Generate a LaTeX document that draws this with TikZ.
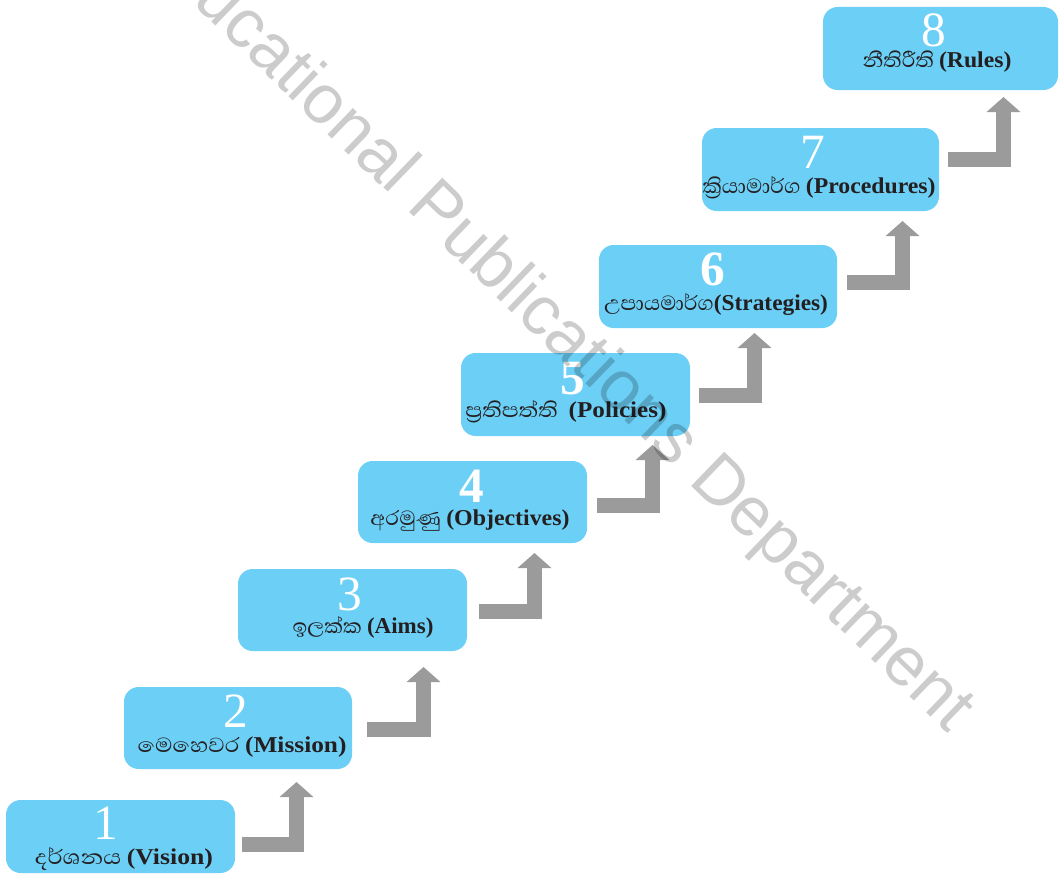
\documentclass[tikz,border=0pt]{standalone}
\usepackage{fontspec}
\usepackage{graphicx}
\setmainfont{Liberation Serif}
\newfontfamily\sinhalafont[Script=Sinhala,Scale=1.15]{Abhaya Libre}
\newfontfamily\wmfont{Liberation Sans}
\usetikzlibrary{arrows.meta}
\definecolor{boxblue}{RGB}{108,207,246}
\definecolor{arrgray}{RGB}{155,155,155}
\definecolor{labtext}{RGB}{35,31,32}
\newcommand\lbl[3]{\resizebox{#1pt}{\height}{{\sinhalafont #2}{\bfseries #3}}}
\tikzset{
  stepbox/.style={fill=boxblue, rounded corners=11pt, inner sep=0pt},
  numtxt/.style={text=white, font=\fontsize{37}{40}\selectfont, anchor=base, inner sep=0pt},
  boldnum/.style={numtxt, font=\fontsize{37}{40}\selectfont\bfseries},
  labtxt/.style={text=labtext, font=\fontsize{17}{20}\selectfont, anchor=base, inner sep=0pt},
  arr/.style={draw=arrgray, line width=11.25pt, line join=miter,
    -{Triangle[width=24.75pt, length=11.25pt]}},
}
\begin{document}
\begin{tikzpicture}[x=0.75pt, y=-0.75pt]
\useasboundingbox (0,0) rectangle (1059,874);
% boxes
\path[stepbox] (6,800) rectangle (235,873);   \node (b1) at (120.5,836.5) {};
\path[stepbox] (124,687) rectangle (352,769); \node (b2) at (238,728) {};
\path[stepbox] (238,569) rectangle (467,651); \node (b3) at (352.5,610) {};
\path[stepbox] (358,461) rectangle (587,543); \node (b4) at (472.5,502) {};
\path[stepbox] (461,353) rectangle (690,436); \node (b5) at (575.5,394.5) {};
\path[stepbox] (599,245) rectangle (837,328); \node (b6) at (718,286.5) {};
\path[stepbox] (702,128) rectangle (939,211); \node (b7) at (820.5,169.5) {};
\path[stepbox] (823,7) rectangle (1058,90);   \node (b8) at (940.5,48.5) {};
% numbers
\node[numtxt] (n1) at (106,839) {1};
\node[numtxt] (n2) at (236,727) {2};
\node[numtxt] (n3) at (350,610) {3};
\node[boldnum] (n4) at (472,502) {4};
\node[boldnum] (n5) at (573,394) {5};
\node[boldnum] (n6) at (713,285) {6};
\node[numtxt] (n7) at (813,168) {7};
\node[numtxt] (n8) at (934,47) {8};
% labels
\node[labtxt] (l1) at (124,864) {\lbl{133.5}{දර්ශනය }{(Vision)}};
\node[labtxt] (l2) at (242,752) {\lbl{156.75}{මෙහෙවර }{(Mission)}};
\node[labtxt] (l3) at (363,633) {\lbl{105.75}{ඉලක්ක }{(Aims)}};
\node[labtxt] (l4) at (470,525) {\lbl{149.25}{අරමුණු }{(Objectives)}};
\node[labtxt] (l5) at (566,417) {\lbl{150.75}{ප්^^^^200dරතිපත්ති \ }{(Policies)}};
\node[labtxt] (l6) at (716,310) {\lbl{168}{උපායමාර්ග}{(Strategies)}};
\node[labtxt] (l7) at (819,193) {\lbl{174.75}{ක්^^^^200dරියාමාර්ග }{(Procedures)}};
\node[labtxt] (l8) at (937,68) {\lbl{111.75}{නීතිරීති }{(Rules)}};
% arrows
\coordinate (a1s) at (242,844.5); \coordinate (a1e) at (296.5,782);
\coordinate (a2s) at (367,729.5); \coordinate (a2e) at (423.5,667);
\coordinate (a3s) at (479,611);   \coordinate (a3e) at (534.5,553);
\coordinate (a4s) at (597,505);   \coordinate (a4e) at (652.5,445);
\coordinate (a5s) at (699,395);   \coordinate (a5e) at (754.5,333);
\coordinate (a6s) at (847,282);   \coordinate (a6e) at (902.5,221);
\coordinate (a7s) at (948,159);   \coordinate (a7e) at (1003.5,97);
\foreach \i in {1,...,7}{\draw[arr] (a\i s) -| (a\i e);}
% watermark
\node[text=black, text opacity=0.2, rotate=-44, inner sep=0pt,
  font=\wmfont\fontsize{52}{60}\selectfont] (wm) at (552,326)
  {Educational Publications Department};
\end{tikzpicture}
\end{document}
